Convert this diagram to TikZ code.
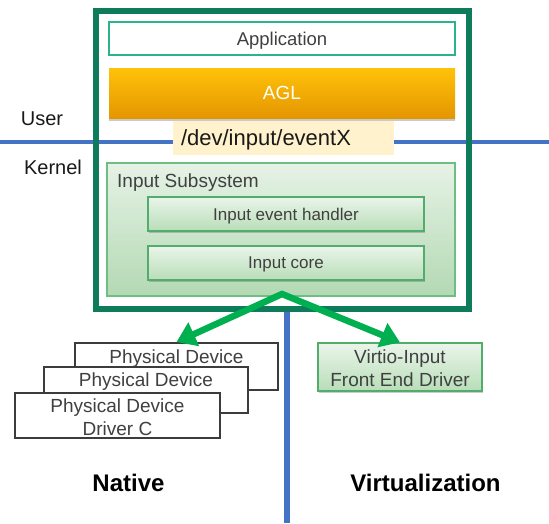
\documentclass[tikz,border=0pt]{standalone}
\usepackage{fontspec}
\setmainfont{Liberation Sans}
\usetikzlibrary{arrows.meta,shadows}
\definecolor{outergreen}{HTML}{0E7B5A}
\definecolor{appteal}{HTML}{2BB38F}
\definecolor{aglTop}{HTML}{FFC20A}
\definecolor{aglBot}{HTML}{E49600}
\definecolor{cream}{HTML}{FFF2CC}
\definecolor{lineblue}{HTML}{4472C4}
\definecolor{arrowgreen}{HTML}{00B050}
\definecolor{txtgray}{HTML}{404040}
\definecolor{subTop}{HTML}{E6F2E6}
\definecolor{subBot}{HTML}{B3D9B3}
\definecolor{subBorder}{HTML}{6DBE83}
\definecolor{boxTop}{HTML}{EAF5EA}
\definecolor{boxBot}{HTML}{B8DDB8}
\definecolor{boxBorder}{HTML}{52AD6C}
\definecolor{devgray}{HTML}{3C3C3C}
\begin{document}
\begin{tikzpicture}[x=1pt,y=-1pt,
  blueline/.style={draw=lineblue,line width=4.5pt},
  txt19/.style={text=txtgray,font=\fontsize{19}{23}\selectfont},
  txt17/.style={text=txtgray,font=\fontsize{17}{20}\selectfont},
  greenbox/.style={draw=boxBorder,line width=1.3pt,top color=boxTop,bottom color=boxBot,
     drop shadow={shadow xshift=0.5pt,shadow yshift=-1.5pt,opacity=.35,fill=black!60},inner sep=0pt},
  devbox/.style={draw=devgray,line width=1.8pt,fill=white,inner sep=0pt},
  greenarrow/.style={draw=arrowgreen,line width=6.5pt,line join=miter},
  bold24/.style={font=\fontsize{24}{28}\selectfont\bfseries,text=black},
  twoline/.style={align=center,text height=39pt,text depth=0pt}
]
\useasboundingbox (0,0) rectangle (549,523);
% background lines
\coordinate (ul) at (0,142);
\coordinate (ur) at (549,142);
\coordinate (vt) at (287,312);
\coordinate (vb) at (287,523);
\draw[blueline] (ul) -- (ur);
\draw[draw=lineblue,line width=6pt] (vt) -- (vb);
% outer frame
\node[draw=outergreen,line width=6.5pt,minimum width=373,minimum height=298,inner sep=0pt] (outer) at (282.5,160) {};
% application
\node[draw=appteal,line width=1.5pt,fill=white,minimum width=346,minimum height=33,inner sep=0pt,txt19,font=\fontsize{18.5}{22}\selectfont,text depth=0pt] (app) at (282,38.5) {Application};
% AGL
\node[top color=aglTop,bottom color=aglBot,minimum width=346,minimum height=50,inner sep=0pt,
  drop shadow={shadow xshift=0.3pt,shadow yshift=-2.5pt,opacity=.35,fill=black!60},
  text=white,font=\fontsize{19}{23}\selectfont] (agl) at (282,93) {AGL};
% /dev/input/eventX
\node[fill=cream,text width=205,inner xsep=8,minimum height=34,inner ysep=0pt,align=left,text depth=0pt,
  font=\fontsize{22}{26}\selectfont,text=black!90] (evx) at (283.5,138) {/dev/input/eventX};
% labels
\node[font=\fontsize{20}{24}\selectfont,text=black!90] (user) at (42,119) {User};
\node[font=\fontsize{20}{24}\selectfont,text=black!90] (kernel) at (53,167) {Kernel};
% input subsystem
\node[draw=subBorder,line width=1.3pt,top color=subTop,bottom color=subBot,minimum width=348,minimum height=133,inner sep=0pt] (subsys) at (281,229.5) {};
\node[txt19,anchor=west,inner sep=0pt,text depth=0pt] (subsyslbl) at (117,181) {Input Subsystem};
\node[greenbox,minimum width=276,minimum height=34,txt17,text depth=0pt] (handler) at (286,214) {Input event handler};
\node[greenbox,minimum width=276,minimum height=34,txt17,text depth=0pt] (core) at (286,263) {Input core};
% physical devices
\node[devbox,minimum width=203,minimum height=47] (dev1) at (176.5,366.5) {};
\node[txt19,inner sep=0pt,text depth=0pt] (dev1t) at (176.5,357) {Physical Device};
\node[devbox,minimum width=204,minimum height=46] (dev2) at (146,390) {};
\node[txt19,inner sep=0pt,text depth=0pt] (dev2t) at (146,380) {Physical Device};
\node[devbox,minimum width=205,minimum height=45,txt19,twoline] (dev3) at (117.5,415.5) {Physical Device\\Driver C};
% virtio
\node[greenbox,minimum width=164,minimum height=48,txt19,twoline] (virtio) at (400,367) {Virtio-Input\\Front End Driver};
% arrows
\coordinate (apex) at (282,294);
\draw[greenarrow,{Triangle[length=19pt,width=25pt]}-{Triangle[length=19pt,width=25pt]}] (dev1.north) -- (apex) -- (virtio.north);
% bottom labels
\node[bold24] (native) at (128.5,483) {Native};
\node[bold24] (virt) at (425.5,483) {Virtualization};
\end{tikzpicture}
\end{document}
